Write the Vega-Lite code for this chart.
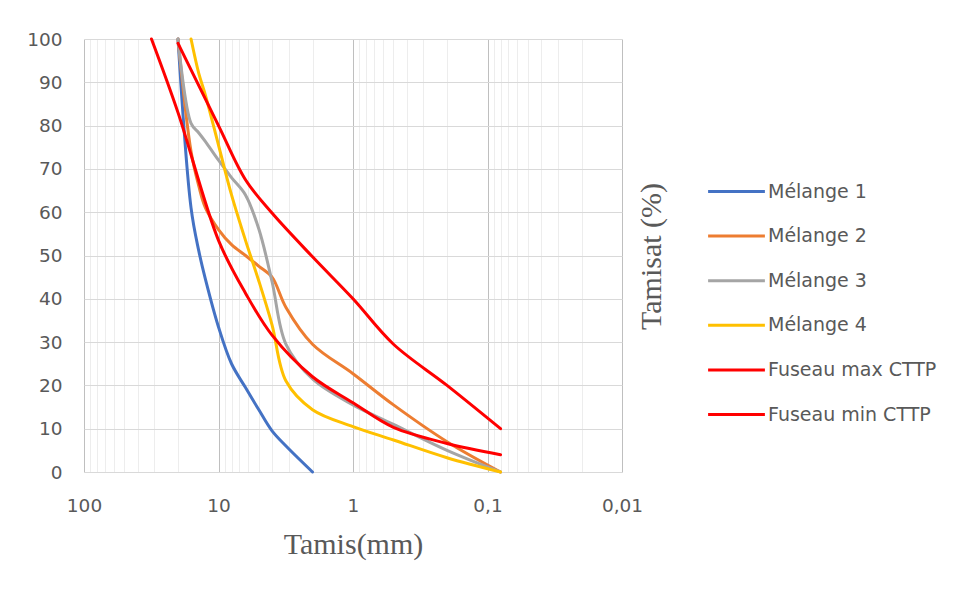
{
  "$schema": "https://vega.github.io/schema/vega-lite/v6.json",
  "width": 538,
  "height": 433,
  "autosize": "none",
  "padding": {"left": 84, "top": 39, "right": 331, "bottom": 118},
  "background": "white",
  "config": {
    "view": {"stroke": null},
    "font": "DejaVu Sans",
    "axis": {"labelFont": "DejaVu Sans", "labelColor": "#595959", "labelFontSize": 18.5, "titleFont": "Liberation Serif", "titleFontWeight": "normal", "titleColor": "#595959", "titleFontSize": 30}
  },
  "data": {
    "values": [
      {"serie": "Mélange 1", "tamis": 20, "tamisat": 100},
      {"serie": "Mélange 1", "tamis": 16, "tamisat": 61},
      {"serie": "Mélange 1", "tamis": 14, "tamisat": 51},
      {"serie": "Mélange 1", "tamis": 12.5, "tamisat": 44.5},
      {"serie": "Mélange 1", "tamis": 10, "tamisat": 33.5},
      {"serie": "Mélange 1", "tamis": 8, "tamisat": 25},
      {"serie": "Mélange 1", "tamis": 6.3, "tamisat": 19.5},
      {"serie": "Mélange 1", "tamis": 5, "tamisat": 14.3},
      {"serie": "Mélange 1", "tamis": 4, "tamisat": 9.5},
      {"serie": "Mélange 1", "tamis": 3.15, "tamisat": 6},
      {"serie": "Mélange 1", "tamis": 2, "tamisat": 0},

      {"serie": "Mélange 2", "tamis": 20, "tamisat": 100},
      {"serie": "Mélange 2", "tamis": 16, "tamisat": 74},
      {"serie": "Mélange 2", "tamis": 14, "tamisat": 66},
      {"serie": "Mélange 2", "tamis": 12.5, "tamisat": 61},
      {"serie": "Mélange 2", "tamis": 10, "tamisat": 56},
      {"serie": "Mélange 2", "tamis": 8, "tamisat": 52.5},
      {"serie": "Mélange 2", "tamis": 6.3, "tamisat": 50},
      {"serie": "Mélange 2", "tamis": 5, "tamisat": 47.5},
      {"serie": "Mélange 2", "tamis": 4, "tamisat": 45},
      {"serie": "Mélange 2", "tamis": 3.15, "tamisat": 38},
      {"serie": "Mélange 2", "tamis": 2, "tamisat": 29.5},
      {"serie": "Mélange 2", "tamis": 1, "tamisat": 22.7},
      {"serie": "Mélange 2", "tamis": 0.5, "tamisat": 15.5},
      {"serie": "Mélange 2", "tamis": 0.2, "tamisat": 7},
      {"serie": "Mélange 2", "tamis": 0.08, "tamisat": 0},

      {"serie": "Mélange 3", "tamis": 20, "tamisat": 100},
      {"serie": "Mélange 3", "tamis": 16, "tamisat": 80.5},
      {"serie": "Mélange 3", "tamis": 14, "tamisat": 78.3},
      {"serie": "Mélange 3", "tamis": 12.5, "tamisat": 76.3},
      {"serie": "Mélange 3", "tamis": 10, "tamisat": 72},
      {"serie": "Mélange 3", "tamis": 8, "tamisat": 68},
      {"serie": "Mélange 3", "tamis": 6.3, "tamisat": 64},
      {"serie": "Mélange 3", "tamis": 5, "tamisat": 56},
      {"serie": "Mélange 3", "tamis": 4, "tamisat": 44},
      {"serie": "Mélange 3", "tamis": 3.15, "tamisat": 29.5},
      {"serie": "Mélange 3", "tamis": 2, "tamisat": 21.5},
      {"serie": "Mélange 3", "tamis": 1, "tamisat": 15.5},
      {"serie": "Mélange 3", "tamis": 0.5, "tamisat": 11},
      {"serie": "Mélange 3", "tamis": 0.2, "tamisat": 5},
      {"serie": "Mélange 3", "tamis": 0.08, "tamisat": 0},

      {"serie": "Mélange 4", "tamis": 16, "tamisat": 100},
      {"serie": "Mélange 4", "tamis": 14, "tamisat": 92},
      {"serie": "Mélange 4", "tamis": 12.5, "tamisat": 87},
      {"serie": "Mélange 4", "tamis": 10, "tamisat": 75.5},
      {"serie": "Mélange 4", "tamis": 8, "tamisat": 64},
      {"serie": "Mélange 4", "tamis": 6.3, "tamisat": 53.5},
      {"serie": "Mélange 4", "tamis": 5, "tamisat": 44},
      {"serie": "Mélange 4", "tamis": 4, "tamisat": 34},
      {"serie": "Mélange 4", "tamis": 3.15, "tamisat": 21},
      {"serie": "Mélange 4", "tamis": 2, "tamisat": 14.4},
      {"serie": "Mélange 4", "tamis": 1, "tamisat": 10.5},
      {"serie": "Mélange 4", "tamis": 0.5, "tamisat": 7.4},
      {"serie": "Mélange 4", "tamis": 0.2, "tamisat": 3.3},
      {"serie": "Mélange 4", "tamis": 0.08, "tamisat": 0},

      {"serie": "Fuseau max CTTP", "tamis": 20, "tamisat": 99},
      {"serie": "Fuseau max CTTP", "tamis": 10, "tamisat": 80},
      {"serie": "Fuseau max CTTP", "tamis": 6.3, "tamisat": 67.5},
      {"serie": "Fuseau max CTTP", "tamis": 4, "tamisat": 59.8},
      {"serie": "Fuseau max CTTP", "tamis": 2, "tamisat": 49.7},
      {"serie": "Fuseau max CTTP", "tamis": 1, "tamisat": 40},
      {"serie": "Fuseau max CTTP", "tamis": 0.5, "tamisat": 29.5},
      {"serie": "Fuseau max CTTP", "tamis": 0.2, "tamisat": 20},
      {"serie": "Fuseau max CTTP", "tamis": 0.08, "tamisat": 10},

      {"serie": "Fuseau min CTTP", "tamis": 31.5, "tamisat": 100},
      {"serie": "Fuseau min CTTP", "tamis": 20, "tamisat": 83},
      {"serie": "Fuseau min CTTP", "tamis": 10, "tamisat": 53.5},
      {"serie": "Fuseau min CTTP", "tamis": 6.3, "tamisat": 41.3},
      {"serie": "Fuseau min CTTP", "tamis": 4, "tamisat": 31.6},
      {"serie": "Fuseau min CTTP", "tamis": 2, "tamisat": 22},
      {"serie": "Fuseau min CTTP", "tamis": 1, "tamisat": 16},
      {"serie": "Fuseau min CTTP", "tamis": 0.5, "tamisat": 10.3},
      {"serie": "Fuseau min CTTP", "tamis": 0.2, "tamisat": 6.6},
      {"serie": "Fuseau min CTTP", "tamis": 0.08, "tamisat": 4}
    ]
  },
  "mark": {"type": "line", "interpolate": "catmull-rom", "strokeWidth": 3, "strokeCap": "round"},
  "encoding": {
    "x": {
      "field": "tamis",
      "type": "quantitative",
      "scale": {"type": "log", "domain": [0.01, 100], "reverse": true, "nice": false},
      "axis": {
        "title": "Tamis(mm)",
        "titleY": 81,
        "titleBaseline": "alphabetic",
        "values": [100, 90, 80, 70, 60, 50, 40, 30, 20, 10, 9, 8, 7, 6, 5, 4, 3, 2, 1, 0.9, 0.8, 0.7, 0.6, 0.5, 0.4, 0.3, 0.2, 0.1, 0.09, 0.08, 0.07, 0.06, 0.05, 0.04, 0.03, 0.02, 0.01],
        "labelExpr": "indexof([100, 10, 1, 0.1, 0.01], datum.value) >= 0 ? replace(format(datum.value, '~g'), '.', ',') : ''",
        "labelPadding": 24,
        "labelBaseline": "top",
        "labelOverlap": false,
        "labelBound": false,
        "labelFlush": false,
        "ticks": false,
        "domain": true,
        "domainColor": "#D9D9D9",
        "domainWidth": 1,
        "grid": true,
        "gridWidth": 1,
        "gridColor": {"condition": {"test": "indexof([100, 10, 1, 0.1, 0.01], datum.value) >= 0", "value": "#BFBFBF"}, "value": "#EDEDED"}
      }
    },
    "y": {
      "field": "tamisat",
      "type": "quantitative",
      "scale": {"domain": [0, 100], "nice": false},
      "axis": {
        "title": "Tamisat (%)",
        "titleX": 576,
        "titleY": 217,
        "titleAngle": -90,
        "titleBaseline": "alphabetic",
        "titleAlign": "center",
        "values": [0, 10, 20, 30, 40, 50, 60, 70, 80, 90, 100],
        "labelPadding": 22,
        "ticks": false,
        "domain": false,
        "grid": true,
        "gridColor": "#D9D9D9",
        "gridWidth": 1
      }
    },
    "color": {
      "field": "serie",
      "type": "nominal",
      "scale": {
        "domain": ["Mélange 1", "Mélange 2", "Mélange 3", "Mélange 4", "Fuseau max CTTP", "Fuseau min CTTP"],
        "range": ["#4472C4", "#ED7D31", "#A5A5A5", "#FFC000", "#FF0000", "#FF0000"]
      },
      "legend": {
        "title": null,
        "orient": "none",
        "legendX": 631,
        "legendY": 131,
        "symbolType": "M-1.42,0H1.42",
        "symbolSize": 1600,
        "symbolStrokeWidth": 3,
        "labelFont": "DejaVu Sans",
        "labelFontSize": 19,
        "labelColor": "#595959",
        "labelOffset": 10,
        "rowPadding": 12.6,
        "labelLimit": 300
      }
    },
    "order": {"field": "tamis", "sort": "descending"}
  }
}
